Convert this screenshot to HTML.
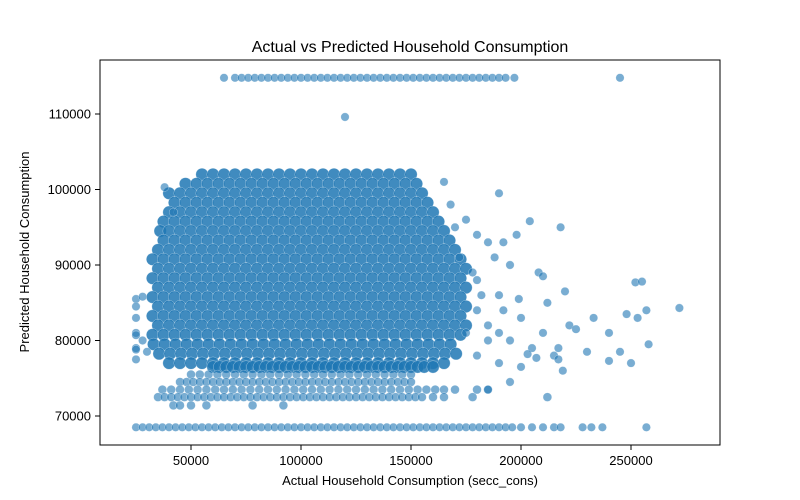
<!DOCTYPE html>
<html><head><meta charset="utf-8"><style>
body{margin:0;background:#fff;font-family:"Liberation Sans","DejaVu Sans",sans-serif}
svg{display:block}
</style></head><body>
<svg id="chart" width="800" height="500" xmlns="http://www.w3.org/2000/svg">
<rect width="800" height="500" fill="#fff"/>
<text x="410" y="52" font-size="16" text-anchor="middle" fill="#000">Actual vs Predicted Household Consumption</text>
<g id="pts"></g>
<rect x="100" y="60" width="620" height="385" fill="none" stroke="#000" stroke-width="1"/>
<g id="axes"></g>
<text x="410" y="485" font-size="13" text-anchor="middle">Actual Household Consumption (secc_cons)</text>
<text transform="translate(29,252) rotate(-90)" font-size="13" text-anchor="middle">Predicted Household Consumption</text>
</svg>
<script>
// values in thousands
const xTicks = [50000,100000,150000,200000,250000];
const yTicks = [70000,80000,90000,100000,110000];
const topRowY = 114.8;
const topRowX = "65 70 73 76 79 82 85 88 91 94 97 100 103 106 109 112 115 118 121 124 127 130 133 136 139 142 145 148 151 154 157 160 163 166 169 172 175 178 181 184 187 190 193 197 245";
const bottomRowY = 68.5;
const bottomRowX = "25 28 31 34 37 40 43 46 49 52 55 58 61 64 67 70 73 76 79 82 85 88 91 94 97 100 103 106 109 112 115 118 121 124 127 130 133 136 139 142 145 148 151 154 157 160 163 166 169 172 175 178 181 184 187 190 193 196 200 205 210 215 218 228 232 237 257";
const lowRows = [
 [75.5,"50 54 58 62 66 70 74 78 82 86 90 94 98 102 106 110 114 118 122 126 130 134 138 142 146 150"],
 [74.5,"45 48 51 54 57 60 63 66 69 72 75 78 81 84 87 90 93 96 99 102 105 108 111 114 117 120 123 126 129 132 135 138 141 144 147 150"],
 [73.5,"37 41 45 49 53 57 61 65 69 73 77 81 85 89 93 97 101 105 109 113 117 121 125 129 133 137 141 145 149 153 157 161 165 170 180 185"],
 [72.5,"35 38 41 44 47 50 53 56 59 62 65 68 71 74 77 80 83 86 89 92 95 98 101 104 107 110 113 116 119 122 125 128 131 134 137 140 143 146 149 152 155 160 165 178 212"],
 [71.4,"42 45 50 57 78 92"]
];
const coreRows = [
 [102,"55 60 65 70 75 80 85 90 95 100 105 110 115 120 125 130 135 140 145 150"],
 [100.75,"47.5 52.5 57.5 62.5 67.5 72.5 77.5 82.5 87.5 92.5 97.5 102.5 107.5 112.5 117.5 122.5 127.5 132.5 137.5 142.5 147.5 152.5"],
 [99.5,"40 45 50 55 60 65 70 75 80 85 90 95 100 105 110 115 120 125 130 135 140 145 150 155"],
 [98.25,"42.5 47.5 52.5 57.5 62.5 67.5 72.5 77.5 82.5 87.5 92.5 97.5 102.5 107.5 112.5 117.5 122.5 127.5 132.5 137.5 142.5 147.5 152.5 157.5"],
 [97,"40 45 50 55 60 65 70 75 80 85 90 95 100 105 110 115 120 125 130 135 140 145 150 155 160"],
 [95.75,"37.5 42.5 47.5 52.5 57.5 62.5 67.5 72.5 77.5 82.5 87.5 92.5 97.5 102.5 107.5 112.5 117.5 122.5 127.5 132.5 137.5 142.5 147.5 152.5 157.5 162.5"],
 [94.5,"36 40 45 50 55 60 65 70 75 80 85 90 95 100 105 110 115 120 125 130 135 140 145 150 155 160 165"],
 [93.25,"37.5 42.5 47.5 52.5 57.5 62.5 67.5 72.5 77.5 82.5 87.5 92.5 97.5 102.5 107.5 112.5 117.5 122.5 127.5 132.5 137.5 142.5 147.5 152.5 157.5 162.5 167.5"],
 [92,"35 40 45 50 55 60 65 70 75 80 85 90 95 100 105 110 115 120 125 130 135 140 145 150 155 160 165 170"],
 [90.75,"32.5 37.5 42.5 47.5 52.5 57.5 62.5 67.5 72.5 77.5 82.5 87.5 92.5 97.5 102.5 107.5 112.5 117.5 122.5 127.5 132.5 137.5 142.5 147.5 152.5 157.5 162.5 167.5 172.5"],
 [89.5,"35 40 45 50 55 60 65 70 75 80 85 90 95 100 105 110 115 120 125 130 135 140 145 150 155 160 165 170 175"],
 [88.25,"32.5 37.5 42.5 47.5 52.5 57.5 62.5 67.5 72.5 77.5 82.5 87.5 92.5 97.5 102.5 107.5 112.5 117.5 122.5 127.5 132.5 137.5 142.5 147.5 152.5 157.5 162.5 167.5 172.5"],
 [87,"35 40 45 50 55 60 65 70 75 80 85 90 95 100 105 110 115 120 125 130 135 140 145 150 155 160 165 170 175"],
 [85.75,"32.5 37.5 42.5 47.5 52.5 57.5 62.5 67.5 72.5 77.5 82.5 87.5 92.5 97.5 102.5 107.5 112.5 117.5 122.5 127.5 132.5 137.5 142.5 147.5 152.5 157.5 162.5 167.5 172.5"],
 [84.5,"35 40 45 50 55 60 65 70 75 80 85 90 95 100 105 110 115 120 125 130 135 140 145 150 155 160 165 170 175"],
 [83.25,"32.5 37.5 42.5 47.5 52.5 57.5 62.5 67.5 72.5 77.5 82.5 87.5 92.5 97.5 102.5 107.5 112.5 117.5 122.5 127.5 132.5 137.5 142.5 147.5 152.5 157.5 162.5 167.5 172.5"],
 [82,"35 40 45 50 55 60 65 70 75 80 85 90 95 100 105 110 115 120 125 130 135 140 145 150 155 160 165 170 175"],
 [80.75,"32.5 37.5 42.5 47.5 52.5 57.5 62.5 67.5 72.5 77.5 82.5 87.5 92.5 97.5 102.5 107.5 112.5 117.5 122.5 127.5 132.5 137.5 142.5 147.5 152.5 157.5 162.5 167.5 172.5"],
 [79.5,"33 38 43 48 53 58 63 68 73 78 83 88 93 98 103 108 113 118 123 128 133 138 143 148 153 158 163 168"],
 [78.25,"35.5 40.5 45.5 50.5 55.5 60.5 65.5 70.5 75.5 80.5 85.5 90.5 95.5 100.5 105.5 110.5 115.5 120.5 125.5 130.5 135.5 140.5 145.5 150.5 155.5 160.5 165.5 170.5"],
 [77,"40 45 50 55 60 65 70 75 80 85 90 95 100 105 110 115 120 125 130 135 140 145 150 155 160 165"],
 [76.5,"60 63 66 69 72 75 78 81 84 87 90 93 96 99 102 105 108 111 114 117 120 123 126 129 132 135 138 141 144 147 150 153 156 160"]
];
const scatterX = [170,175,180,185,190,192,195,198,204,208,210,212,218,220,180,185,190,195,200,205,210,215,217,222,225,230,240,245,248,250,252,253,255,257,258,272,240,200,195,185,180,188,192,199,203,207,217,219,233,180,175,185,190,25,25,25,25,25,25,25,25,28,28,30,38,120,42,190,165,168,172,178,182];
const scatterY = [95,96,94,93,99.5,93,90,94,95.8,89,88.5,85,95,86.5,84,82,86,80,83,79,81,78,79,82,81.5,78.5,81,78.5,83.5,77,87.7,83,87.8,84,79.5,84.3,77.3,76.5,74.5,73.5,88,91,84,85.5,78.2,77.7,77.5,76,83,78,81,80,77,85.5,84.5,83,81,80.7,79,78.8,77.5,85.8,80,78.5,100.3,109.6,97,81,101,98,91,89,86];

const NS="http://www.w3.org/2000/svg";
const xPix = v => 81 + v*0.0022;
const yPix = v => 416 - (v-70000)*0.00755;
const g = document.getElementById('pts');
function dot(xk, yk, r, a){
  const c=document.createElementNS(NS,'circle');
  
  
  c.setAttribute('cx',xPix(xk*1000).toFixed(1));
  c.setAttribute('cy',yPix(yk*1000).toFixed(1));
  c.setAttribute('r',r);
  c.setAttribute('fill','rgba(31,119,180,'+a+')');
  c.setAttribute('stroke','rgba(255,255,255,0.5)');
  c.setAttribute('stroke-width','0.5');
  g.appendChild(c);
}
const parse = s => s.split(' ').map(Number);
coreRows.forEach(r=>parse(r[1]).forEach(x=>dot(x,r[0],6.2,0.85)));
parse(topRowX).forEach(x=>dot(x,topRowY,4.2,0.6));
parse(bottomRowX).forEach(x=>dot(x,bottomRowY,4.2,0.6));
lowRows.forEach(r=>parse(r[1]).forEach(x=>dot(x,r[0],4.4,0.6)));
scatterX.forEach((x,i)=>dot(x,scatterY[i],4.2,0.6));

const ax=document.getElementById('axes');
xTicks.forEach(t=>{
  const x=xPix(t);
  const l=document.createElementNS(NS,'line');
  
  
  l.setAttribute('x1',x);l.setAttribute('x2',x);l.setAttribute('y1',445);l.setAttribute('y2',450);l.setAttribute('stroke','#000');
  ax.appendChild(l);
  const tx=document.createElementNS(NS,'text');
  
  
  tx.setAttribute('x',x);tx.setAttribute('y',465);tx.setAttribute('font-size','13');tx.setAttribute('text-anchor','middle');
  tx.textContent=t;ax.appendChild(tx);
});
yTicks.forEach(t=>{
  const y=yPix(t);
  const l=document.createElementNS(NS,'line');
  
  
  l.setAttribute('x1',95);l.setAttribute('x2',100);l.setAttribute('y1',y);l.setAttribute('y2',y);l.setAttribute('stroke','#000');
  ax.appendChild(l);
  const tx=document.createElementNS(NS,'text');
  
  
  tx.setAttribute('x',91);tx.setAttribute('y',y+4.5);tx.setAttribute('font-size','13');tx.setAttribute('text-anchor','end');
  tx.textContent=t;ax.appendChild(tx);
});
</script>
</body></html>
